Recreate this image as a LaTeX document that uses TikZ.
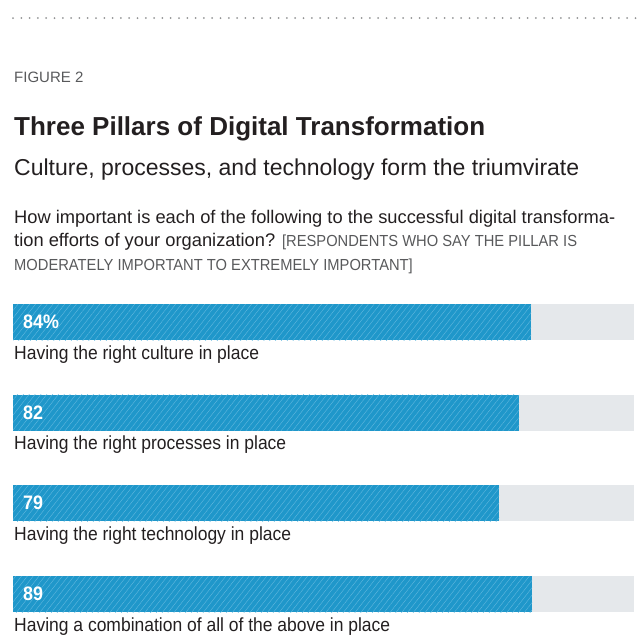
\documentclass[tikz,border=0pt]{standalone}
\usepackage{fontspec}
\setmainfont{Liberation Sans}
\newfontfamily\condfont[FakeStretch=0.92]{Liberation Sans}
\usetikzlibrary{patterns.meta}
\definecolor{barblue}{HTML}{1F97CA}
\definecolor{hatchblue}{HTML}{62B8DF}
\definecolor{trackgray}{HTML}{E5E8EB}
\definecolor{inkdark}{HTML}{231F20}
\definecolor{inkgray}{HTML}{58595B}
\newcommand\capsgray{\color{inkgray}\condfont\fontsize{16}{16}\selectfont}
\tikzset{
  txt/.style={anchor=base west,inner sep=0pt,text=inkdark},
  ask/.style={txt,font=\fontsize{18.3}{18.3}\selectfont},
  track/.style={fill=trackgray},
  bar/.style={preaction={fill=barblue},
    pattern={Lines[angle=52,distance=4.6pt,line width=.4pt]},
    pattern color=hatchblue},
  barval/.style={anchor=base west,inner sep=0pt,text=white,
    font=\condfont\bfseries\fontsize{19.5}{19.5}\selectfont},
  barcap/.style={txt,font=\condfont\fontsize{19}{19}\selectfont}}

\begin{document}
\begin{tikzpicture}[x=1pt,y=-1pt]
\useasboundingbox (0,0) rectangle (641,641);
\draw[inkgray!65,line width=2pt,line cap=round,
  dash pattern=on 0pt off 8.3pt] (13,18) -- (641,18);
\node[txt,text=inkgray,font=\fontsize{15}{15}\selectfont]
  (fig) at (14,82) {FIGURE 2};
\node[txt,font=\bfseries\fontsize{26}{26}\selectfont]
  (title) at (14,135) {Three Pillars of Digital Transformation};
\node[txt,font=\fontsize{23}{23}\selectfont]
  (subtitle) at (14,175) {Culture, processes, and technology form the triumvirate};
% question, one node per line
\node[ask] (ask1) at (14,223) {How important is each of the following to the successful digital transforma-};
\node[ask] (ask2) at (14,246.5) {tion efforts of your organization? {\capsgray[RESPONDENTS WHO SAY THE PILLAR IS}};
\node[txt,text=inkgray,font=\capsgray] (ask3) at (14,270) {MODERATELY IMPORTANT TO EXTREMELY IMPORTANT]};
% bars
\foreach \v/\e/\t [count=\i] in {
  84\%/531/Having the right culture in place,
  82/519/Having the right processes in place,
  79/499/Having the right technology in place,
  89/532/Having a combination of all of the above in place}{
  \pgfmathsetmacro\top{304+(\i-1)*90.7}
  \path[track] (13,\top) rectangle (634,{\top+36});
  \path[bar] (13,\top) rectangle (\e,{\top+36});
  \node[barval] (val\i) at (23,{\top+24.5}) {\v};
  \node[barcap] (cap\i) at (14,{\top+55}) {\t};
}
\end{tikzpicture}
\end{document}
